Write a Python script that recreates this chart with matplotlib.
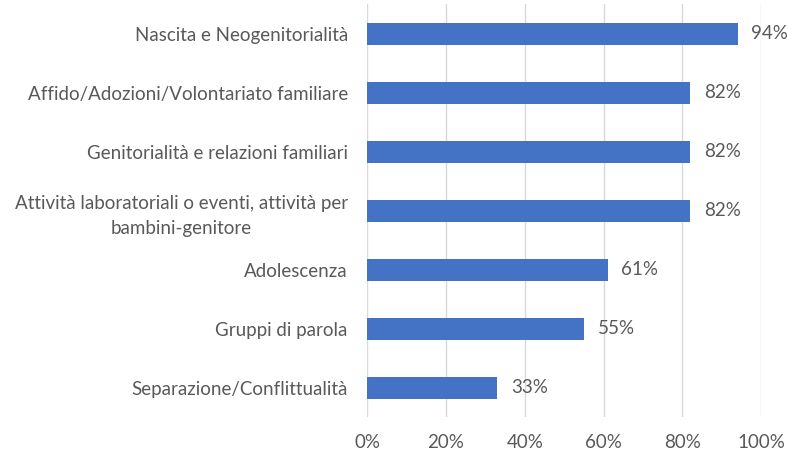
import matplotlib
matplotlib.use('Agg')
import matplotlib.pyplot as plt
from matplotlib.ticker import FuncFormatter

# Data (top to bottom as shown)
categories = [
    "Nascita e Neogenitorialità",
    "Affido/Adozioni/Volontariato familiare",
    "Genitorialità e relazioni familiari",
    "Attività laboratoriali o eventi, attività per\nbambini-genitore",
    "Adolescenza",
    "Gruppi di parola",
    "Separazione/Conflittualità",
]
values = [0.94, 0.82, 0.82, 0.82, 0.61, 0.55, 0.33]
x_ticks = [0, 0.2, 0.4, 0.6, 0.8, 1.0]

BAR_COLOR = '#4472C4'
TEXT_COLOR = '#595959'
GRID_COLOR = '#D9D9D9'
FS = 13.5

plt.rcParams['font.family'] = ['Lato', 'DejaVu Sans']

fig = plt.figure(figsize=(7.88, 4.54), dpi=100)
ax = fig.add_axes([0.466, 0.0804, 0.500, 0.910])

pos = list(range(len(categories)))[::-1]
ax.barh(pos, values, height=0.37, color=BAR_COLOR, zorder=3)

for y, v in zip(pos, values):
    ax.text(v + 0.035, y, f"{v*100:.0f}%", va='center', ha='left',
            fontsize=FS, color=TEXT_COLOR)

ax.set_xlim(0, 1.0)
ax.set_ylim(-0.5, len(categories) - 0.5)
ax.set_xticks(x_ticks)
ax.xaxis.set_major_formatter(FuncFormatter(lambda x, _: f'{x*100:.0f}%'))
ax.set_yticks(pos)
ax.set_yticklabels(categories, ha='right', multialignment='center', linespacing=1.55)
ax.tick_params(axis='y', length=0, pad=14, labelsize=FS, labelcolor=TEXT_COLOR)
ax.tick_params(axis='x', length=0, pad=12, labelsize=FS, labelcolor=TEXT_COLOR)

ax.grid(axis='x', color=GRID_COLOR, linewidth=1, zorder=0)
for s in ax.spines.values():
    s.set_visible(False)

fig.savefig('out.png', dpi=100, facecolor='white')
